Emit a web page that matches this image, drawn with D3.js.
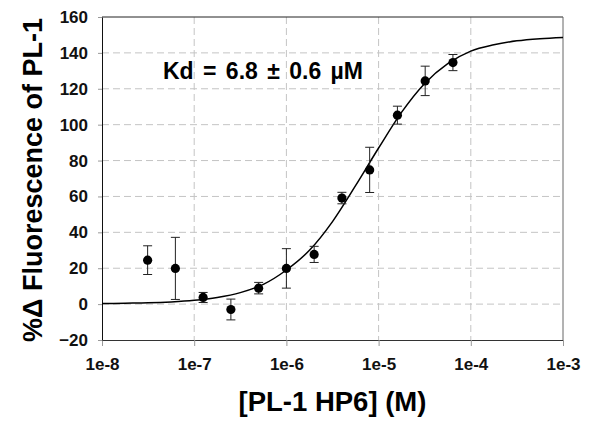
<!DOCTYPE html>
<html>
<head>
<meta charset="utf-8">
<script src="https://cdn.jsdelivr.net/npm/d3@7/dist/d3.min.js"></script>
<style>
  body { margin: 0; background: #fff; }
  svg { display: block; font-family: Arial, "Liberation Sans", sans-serif; }
  .axis text { font-family: Arial, "Liberation Sans", sans-serif; font-size: 17px; font-weight: bold; fill: #111; }
</style>
</head>
<body>
<svg class="binding-chart"></svg>
<script>
const graphWidth = 591;
const graphHeight = 422;

// measured points: concentration (M), %delta fluorescence, error
const conc = [3.125e-8, 6.25e-8, 1.25e-7, 2.5e-7, 5e-7, 1e-6, 2e-6, 4e-6, 8e-6, 1.6e-5, 3.2e-5, 6.4e-5];
const signal = [24.5, 19.9, 3.7, -3.0, 8.9, 19.9, 27.7, 59.1, 74.8, 105.3, 124.4, 134.6];
const errors = [8.0, 17.3, 2.8, 5.8, 3.2, 11.0, 4.5, 3.2, 12.6, 5.0, 8.2, 4.5];

// fitted curve (log10 of concentration, value)
const fitLogConc = [-8, -7.75, -7.5, -7.25, -7, -6.75, -6.5, -6.25, -6, -5.75, -5.5, -5.25, -5, -4.75, -4.5, -4.25, -4, -3.75, -3.5, -3.25, -3];
const fitValue = [0.3, 0.5, 0.7, 1.2, 2.1, 3.7, 6.4, 11, 19, 30, 46, 66, 87, 107, 123, 134, 141, 144.5, 146.7, 147.9, 148.6];

const xTicks = [1e-8, 1e-7, 1e-6, 1e-5, 1e-4, 1e-3];
const xTickLabels = ['1e-8', '1e-7', '1e-6', '1e-5', '1e-4', '1e-3'];
const yTicks = [-20, 0, 20, 40, 60, 80, 100, 120, 140, 160];

const margin = { top: 17, right: 28, bottom: 82, left: 102 };
const width = graphWidth - margin.left - margin.right;
const height = graphHeight - margin.top - margin.bottom;

const svg = d3
  .select('.binding-chart')
  .attr('width', graphWidth)
  .attr('height', graphHeight);

svg.append('rect').attr('width', graphWidth).attr('height', graphHeight).attr('fill', '#fff');

const g = svg.append('g').attr('transform', 'translate(' + margin.left + ',' + margin.top + ')');

const x = d3.scaleLog().domain([1e-8, 1e-3]).range([0, width]);
const y = d3.scaleLinear().domain([-20, 160]).range([height, 0]);

//Grid lines
g.append('g')
  .selectAll('line')
  .data(yTicks.slice(1, -1))
  .enter()
  .append('line')
  .attr('x1', 0)
  .attr('x2', width)
  .attr('y1', d => y(d))
  .attr('y2', d => y(d))
  .attr('stroke', '#c4c4c4')
  .attr('stroke-dasharray', '7,4');

g.append('g')
  .selectAll('line')
  .data(xTicks.slice(1, -1))
  .enter()
  .append('line')
  .attr('x1', d => x(d))
  .attr('x2', d => x(d))
  .attr('y1', 0)
  .attr('y2', height)
  .attr('stroke', '#c4c4c4')
  .attr('stroke-dasharray', '7,4');

//Frame: top and right
g.append('line').attr('x1', 0).attr('x2', width).attr('y1', 0).attr('y2', 0).attr('stroke', '#222');
g.append('line').attr('x1', width).attr('x2', width).attr('y1', 0).attr('y2', height).attr('stroke', '#666');

//Axes
const xAxis = g
  .append('g')
  .attr('class', 'axis')
  .attr('transform', 'translate(0,' + height + ')')
  .call(d3.axisBottom(x).tickValues(xTicks).tickFormat((d, i) => xTickLabels[i]).tickSizeInner(6).tickSizeOuter(0).tickPadding(12));
xAxis.select('.domain').attr('stroke', '#333');
xAxis.selectAll('.tick line').attr('stroke', '#999');

const yAxis = g
  .append('g')
  .attr('class', 'axis')
  .call(d3.axisLeft(y).tickValues(yTicks).tickSizeInner(4).tickSizeOuter(0).tickPadding(10));
yAxis.select('.domain').attr('stroke', '#111');
yAxis.selectAll('.tick line').attr('stroke', '#999');

//Fitted curve
const line = d3
  .line()
  .x((d, i) => x(Math.pow(10, d)))
  .y((d, i) => y(fitValue[i]))
  .curve(d3.curveMonotoneX);

g.append('path')
  .attr('d', line(fitLogConc))
  .attr('fill', 'none')
  .attr('stroke', '#000')
  .attr('stroke-width', 1.5);

//Error bars
const bars = g.append('g').selectAll('g').data(conc).enter().append('g');
bars
  .append('line')
  .attr('x1', d => x(d))
  .attr('x2', d => x(d))
  .attr('y1', (d, i) => y(signal[i] + errors[i]))
  .attr('y2', (d, i) => y(signal[i] - errors[i]))
  .attr('stroke', '#222');
[1, -1].forEach(s => {
  bars
    .append('line')
    .attr('x1', d => x(d) - 4.5)
    .attr('x2', d => x(d) + 4.5)
    .attr('y1', (d, i) => y(signal[i] + s * errors[i]))
    .attr('y2', (d, i) => y(signal[i] + s * errors[i]))
    .attr('stroke', '#222');
});

//Points
g.append('g')
  .selectAll('circle')
  .data(conc)
  .enter()
  .append('circle')
  .attr('cx', d => x(d))
  .attr('cy', (d, i) => y(signal[i]))
  .attr('r', 4.6)
  .attr('fill', '#000');

//Annotation
svg
  .append('text')
  .attr('x', 163)
  .attr('y', 79)
  .style('font-size', '23px')
  .style('font-weight', 'bold')
  .attr('word-spacing', '3px')
  .text('Kd = 6.8 ± 0.6 µM');

//Axis titles
svg
  .append('text')
  .attr('x', margin.left + width / 2)
  .attr('y', 411)
  .attr('text-anchor', 'middle')
  .style('font-size', '27.5px')
  .style('font-weight', 'bold')
  .text('[PL-1 HP6] (M)');

svg
  .append('text')
  .attr('transform', 'translate(42,180) rotate(-90)')
  .attr('text-anchor', 'middle')
  .style('font-size', '27px')
  .style('font-weight', 'bold')
  .text('%Δ Fluorescence of PL-1');
</script>
</body>
</html>
